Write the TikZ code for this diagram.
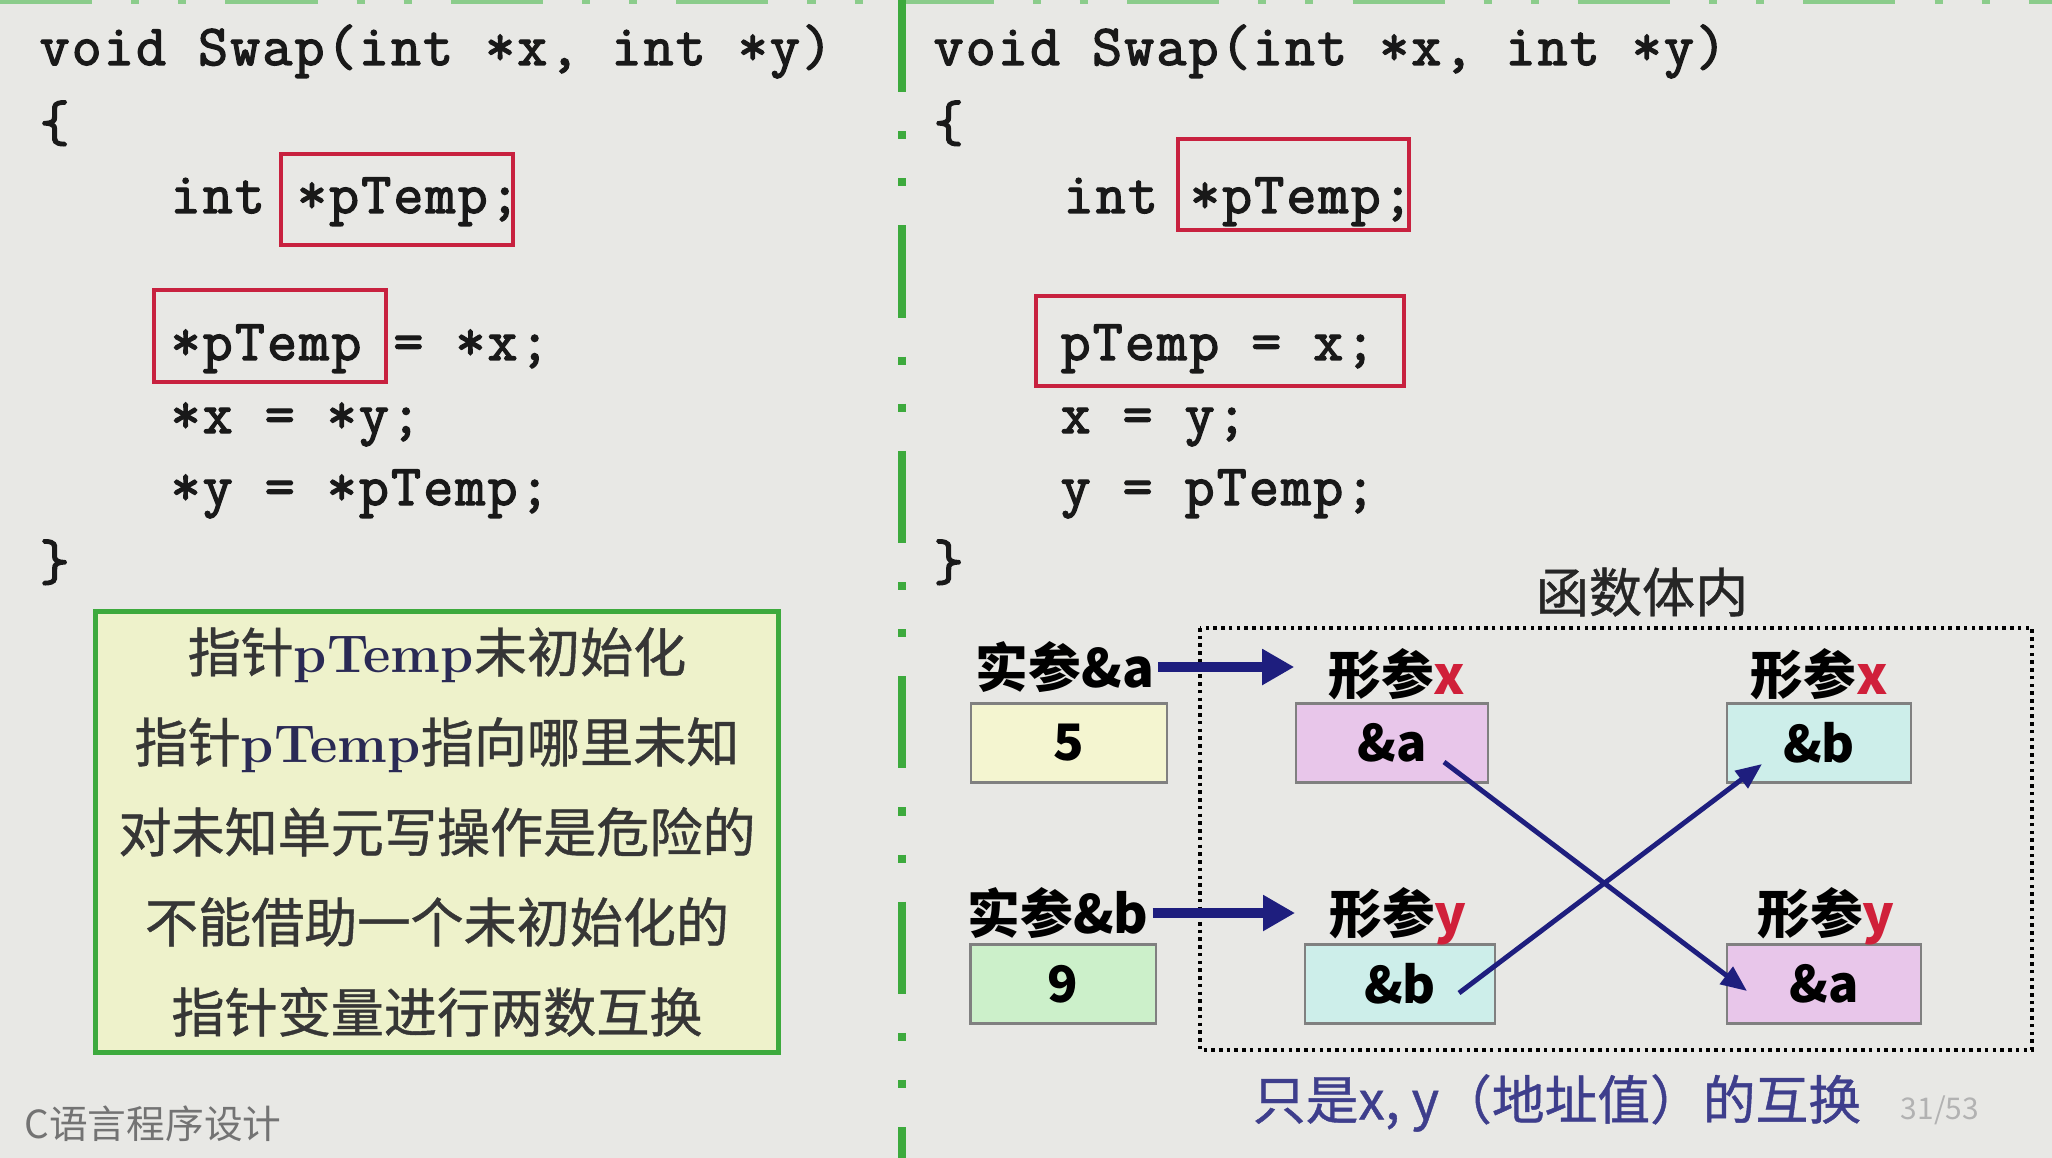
\documentclass[tikz,border=0pt]{standalone}
\usepackage{fontspec}
\newfontfamily\cjk{Noto Sans CJK SC}
\newfontfamily\cjkm{Noto Sans CJK SC}[FakeBold=0.8]
\newfontfamily\code{Latin Modern Mono}[LetterSpace=3.9,FakeBold=2.4]
\usetikzlibrary{arrows.meta,calc,positioning}
\definecolor{PaperGray}{HTML}{E8E8E5}
\definecolor{CodeRed}{HTML}{C8213F}
\definecolor{RuleGreen}{HTML}{3DAA3D}
\definecolor{NoteFill}{HTML}{EEF2CB}
\definecolor{NoteInk}{HTML}{363636}
\definecolor{PtrInk}{HTML}{2A2A55}
\definecolor{Navy}{HTML}{1E1E7E}
\definecolor{SlateInk}{HTML}{3E3E8C}
\definecolor{CellYellow}{HTML}{F4F5D0}
\definecolor{CellPink}{HTML}{E8C6EA}
\definecolor{CellCyan}{HTML}{CDEEEA}
\definecolor{CellGreen}{HTML}{CCF0CA}
\definecolor{VarRed}{HTML}{D0203A}

\begin{document}
\begin{tikzpicture}[x=0.01cm,y=-0.01cm,
    codeline/.style={anchor=base west,inner sep=0pt,text=black!90,
                     font=\code\fontsize{16.5}{19}\selectfont},
    hilite/.style={draw=CodeRed,line width=1.15pt},
    note/.style={draw=RuleGreen,line width=1.4pt,fill=NoteFill,align=center,
                 minimum width=6.83cm,minimum height=4.4cm,text=NoteInk,
                 font=\cjkm\fontsize{15.1}{25.6}\selectfont},
    lab/.style={inner sep=1pt,font=\cjk\bfseries\fontsize{15}{18}\selectfont},
    cell/.style={draw=black!50,line width=0.6pt,minimum height=0.79cm,
                 font=\cjk\bfseries\fontsize{14.3}{17}\selectfont},
    fat/.style={-{Triangle[length=0.32cm,width=0.34cm]},line width=3pt,Navy},
    cross/.style={-{Triangle[length=0.26cm,width=0.21cm]},line width=1.4pt,Navy},
    rule/.style={RuleGreen,dash pattern=on 26.2pt off 11.1pt on 2.3pt off 11.1pt on 2.3pt off 11.1pt}]
  \useasboundingbox (0,0) rectangle (2052,1158);
  \fill[PaperGray] (0,0) rectangle (2052,1158);
  \draw[rule,line width=1.2pt,draw=RuleGreen!60] (0,2) -- (2052,2);
  \draw[rule,line width=2.4pt] (902,0) -- (902,1158);

  % left: *pTemp
  \node[codeline] (l1) at (39,65) {void Swap(int *x, int *y)};
  \node[codeline] (l2) at (39,141) {\{};
  \node[codeline] (l3) at (170,213) {int *pTemp;};
  \node[codeline] (l4) at (170,360) {*pTemp = *x;};
  \node[codeline] (l5) at (170,433) {*x = *y;};
  \node[codeline] (l6) at (170,505) {*y = *pTemp;};
  \node[codeline] (l7) at (39,580) {\}};
  \draw[hilite] (281,154) rectangle (513,245);
  \draw[hilite] (154,290) rectangle (386,382);

  % right: pTemp
  \node[codeline] (r1) at (933,65) {void Swap(int *x, int *y)};
  \node[codeline] (r2) at (933,141) {\{};
  \node[codeline] (r3) at (1063,213) {int *pTemp;};
  \node[codeline] (r4) at (1060,360) {pTemp = x;};
  \node[codeline] (r5) at (1060,433) {x = y;};
  \node[codeline] (r6) at (1060,505) {y = pTemp;};
  \node[codeline] (r7) at (933,580) {\}};
  \draw[hilite] (1178,139) rectangle (1409,230);
  \draw[hilite] (1036,296) rectangle (1404,386);

  \node[note] (warn) at (437,832) {%
    指针{\rmfamily\bfseries\color{PtrInk}pTemp}未初始化\\
    指针{\rmfamily\bfseries\color{PtrInk}pTemp}指向哪里未知\\
    对未知单元写操作是危险的\\
    不能借助一个未初始化的\\
    指针变量进行两数互换};

  \node[font=\cjkm\fontsize{15.1}{18}\selectfont,text=black!85] (body) at (1642,592) {函数体内};
  \draw[line width=1pt,dash pattern=on 1pt off 1.2pt] (1200,628) rectangle (2032,1050);

  \node[cell,fill=CellYellow,minimum width=1.96cm] (five) at (1069,743) {5};
  \node[cell,fill=CellPink,minimum width=1.92cm] (xa) at (1392,743) {\&a};
  \node[cell,fill=CellCyan,minimum width=1.84cm] (xb) at (1819,743) {\&b};
  \node[cell,fill=CellGreen,minimum width=1.85cm] (nine) at (1063,984) {9};
  \node[cell,fill=CellCyan,minimum width=1.90cm] (yb) at (1400,984) {\&b};
  \node[cell,fill=CellPink,minimum width=1.94cm] (ya) at (1824,984) {\&a};

  \node[lab] (aa) at (1065,667) {实参\&a};
  \node[lab] (ab) at (1058,913) {实参\&b};
  \node[lab] (px1) at (1397,674) {形参\textcolor{VarRed}{x}};
  \node[lab] (px2) at (1819,674) {形参\textcolor{VarRed}{x}};
  \node[lab] (py1) at (1398,916) {形参\textcolor{VarRed}{y}};
  \node[lab] (py2) at (1826,916) {形参\textcolor{VarRed}{y}};

  \draw[fat,shorten >=0.3cm] (aa.east) -- (aa.east -| px1.west);
  \draw[fat,shorten >=0.3cm] (ab.east) -- (ab.east -| py1.west);
  \draw[cross] ($(xa)+(52,19)$) -- ($(ya)+(-77,7)$);
  \draw[cross] ($(yb)+(59,9)$) -- ($(xb)+(-57,21)$);

  \node[font=\cjkm\fontsize{15}{18}\selectfont,text=SlateInk] (swapnote) at (1557,1103) {只是x, y（地址值）的互换};
  \node[font=\cjk\fontsize{8.5}{10}\selectfont,text=black!30] (page) at (1940,1110) {31/53};
  \node[font=\cjk\fontsize{11}{13}\selectfont,text=black!55] (course) at (153,1124) {C语言程序设计};
\end{tikzpicture}
\end{document}
